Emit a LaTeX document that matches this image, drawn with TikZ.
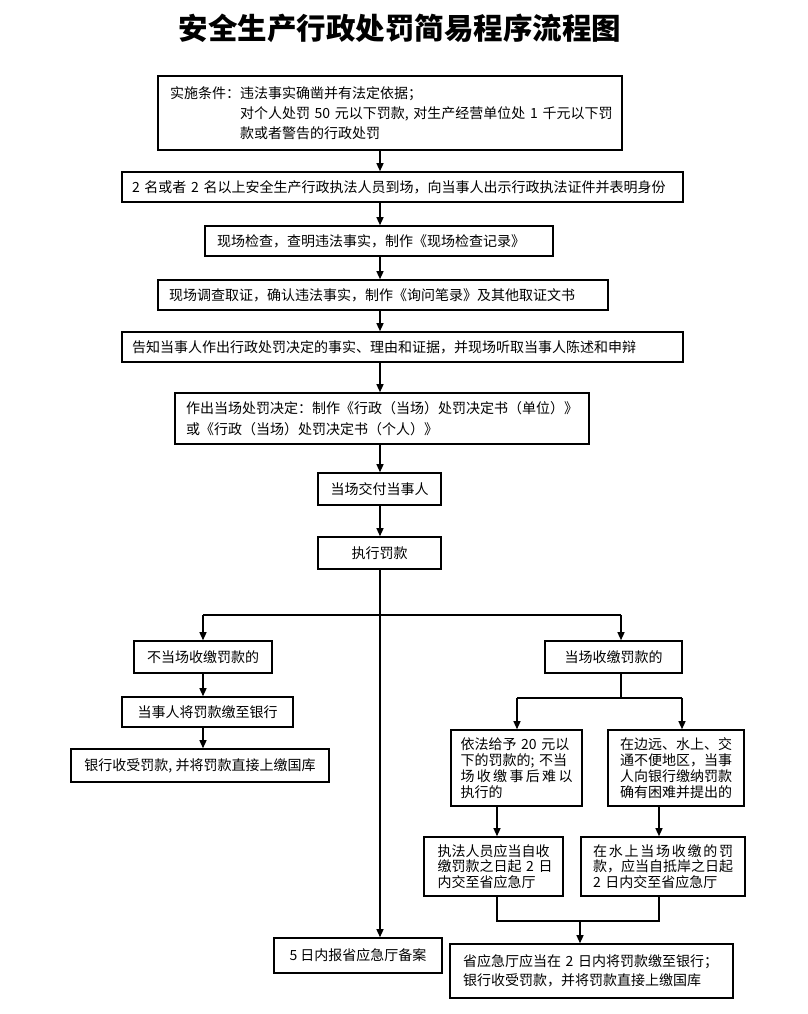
\documentclass[tikz,border=0pt]{standalone}
\usepackage{fontspec}
\setmainfont{Noto Sans CJK SC}
\usetikzlibrary{arrows.meta}
\tikzset{
  box/.style={draw, line width=1.6pt, inner ysep=0pt, font=\fontsize{14}{20}\selectfont},
  cbox/.style={box, align=center, inner xsep=0pt},
  arr/.style={line width=1.3pt, -{Triangle[length=8pt,width=7pt]}},
  ln/.style={line width=1.3pt},
}
\begin{document}
\begin{tikzpicture}[x=1pt,y=-1pt]
\fill[white] (0,0) rectangle (807,1014);
\useasboundingbox (0,0) rectangle (807,1014);

\node[font=\fontsize{29.5}{30}\selectfont\bfseries] (title) at (400,28) {安全生产行政处罚简易程序流程图};

\node[box, minimum width=464pt, minimum height=74pt, text width=440pt, inner xsep=12pt, align=left] (b1) at (390,113)
  {\mbox{实施条件：违法事实确凿并有法定依据；}\\
   \mbox{\hspace*{70pt}对个人处罚 50 元以下罚款, 对生产经营单位处 1 千元以下罚}\\
   \mbox{\hspace*{70pt}款或者警告的行政处罚}};

\node[box, minimum width=561pt, minimum height=30pt, text width=541pt, inner xsep=10pt, align=left] (b2) at (402.5,187)
  {\mbox{2 名或者 2 名以上安全生产行政执法人员到场，向当事人出示行政执法证件并表明身份}};

\node[box, minimum width=348pt, minimum height=30pt, text width=324pt, inner xsep=12pt, align=left] (b3) at (379,241)
  {\mbox{现场检查，查明违法事实，制作《现场检查记录》}};

\node[box, minimum width=450pt, minimum height=30pt, text width=428pt, inner xsep=11pt, align=left] (b4) at (383,295)
  {\mbox{现场调查取证，确认违法事实，制作《询问笔录》及其他取证文书}};

\node[box, minimum width=561pt, minimum height=30pt, text width=541pt, inner xsep=10pt, align=left] (b5) at (402.5,347)
  {\mbox{告知当事人作出行政处罚决定的事实、理由和证据，并现场听取当事人陈述和申辩}};

\node[box, font=\fontsize{14}{21}\selectfont, minimum width=414pt, minimum height=51pt, text width=392pt, inner xsep=11pt, align=left] (b6) at (382,418.5)
  {\mbox{作出当场处罚决定：制作《行政（当场）处罚决定书（单位）》}\\
   \mbox{或《行政（当场）处罚决定书（个人）》}};

\node[cbox, minimum width=123pt, minimum height=32pt] (b7) at (379.5,489) {当场交付当事人};
\node[cbox, minimum width=123pt, minimum height=32pt] (b8) at (379.5,553) {执行罚款};

\node[cbox, minimum width=138pt, minimum height=32pt] (A) at (203,657) {不当场收缴罚款的};
\node[cbox, minimum width=171pt, minimum height=30pt] (B) at (207.5,712) {当事人将罚款缴至银行};
\node[cbox, minimum width=258pt, minimum height=33pt] (C) at (200,765.5) {银行收受罚款, 并将罚款直接上缴国库};

\node[cbox, minimum width=137pt, minimum height=32pt] (R) at (613.5,657) {当场收缴罚款的};

\node[box, font=\fontsize{14}{16}\selectfont, minimum width=131pt, minimum height=76pt, text width=112pt, inner xsep=9.5pt, align=left] (D) at (516.5,768)
  {\makebox[8em][s]{依法给予 20 元以}\\
   \makebox[8em][s]{下的罚款的; 不当}\\
   \makebox[8em][s]{场\hfill 收\hfill 缴\hfill 事\hfill 后\hfill 难\hfill 以}\\
   执行的};

\node[box, font=\fontsize{14}{16}\selectfont, minimum width=136pt, minimum height=76pt, text width=112pt, inner xsep=12pt, align=left] (E) at (676,768)
  {在边远、水上、交\\
   通不便地区，当事\\
   人向银行缴纳罚款\\
   确有困难并提出的};

\node[box, font=\fontsize{14}{15.5}\selectfont, minimum width=139pt, minimum height=59pt, text width=112pt, inner xsep=13.5pt, align=left] (F) at (493.5,866.5)
  {执法人员应当自收\\
   \makebox[8em][s]{缴罚款之日起 2 日}\\
   内交至省应急厅};

\node[box, font=\fontsize{14}{15.5}\selectfont, minimum width=164pt, minimum height=59pt, text width=140pt, inner xsep=12pt, align=left] (G) at (663,866.5)
  {\makebox[10em][s]{在\hfill 水\hfill 上\hfill 当\hfill 场\hfill 收\hfill 缴\hfill 的\hfill 罚}\\
   款，应当自抵岸之日起\\
   \mbox{2 日内交至省应急厅}};

\node[cbox, minimum width=168pt, minimum height=35pt] (K) at (358,955.5) {5 日内报省应急厅备案};

\node[box, font=\fontsize{14}{19.5}\selectfont, minimum width=283pt, minimum height=54pt, text width=257pt, inner xsep=13pt, align=left] (H) at (591.5,971)
  {\mbox{省应急厅应当在 2 日内将罚款缴至银行；}\\
   \mbox{银行收受罚款，并将罚款直接上缴国库}};

% helper coordinates
\coordinate (spine) at (380,0);
\coordinate (jl) at (203,615);
\coordinate (jr) at (621,615);
\coordinate (jd) at (517,698);
\coordinate (je) at (682,698);
\coordinate (xf) at (497,0);
\coordinate (xg) at (659,0);
\coordinate (mL) at (497,921);
\coordinate (mR) at (659,921);
\coordinate (mm) at (580,921);

% main spine
\draw[arr] (b1.south -| spine) -- (b2.north -| spine);
\draw[arr] (b2.south -| spine) -- (b3.north -| spine);
\draw[arr] (b3.south -| spine) -- (b4.north -| spine);
\draw[arr] (b4.south -| spine) -- (b5.north -| spine);
\draw[arr] (b5.south -| spine) -- (b6.north -| spine);
\draw[arr] (b6.south -| spine) -- (b7.north -| spine);
\draw[arr] (b7.south -| spine) -- (b8.north -| spine);
\draw[arr] (b8.south -| spine) -- (K.north -| spine);

% branch
\draw[ln] (jl) -- (jr);
\draw[arr] (jl) -- (A.north -| jl);
\draw[arr] (jr) -- (R.north -| jr);
\draw[arr] (A.south -| jl) -- (B.north -| jl);
\draw[arr] (B.south -| jl) -- (C.north -| jl);

\draw[ln] (R.south -| jr) -- (jr |- jd);
\draw[ln] (jd) -- (je);
\draw[arr] (jd) -- (D.north -| jd);
\draw[arr] (je) -- (E.north -| je);

\draw[arr] (D.south -| xf) -- (F.north -| xf);
\draw[arr] (E.south -| xg) -- (G.north -| xg);

\draw[ln] (F.south -| xf) -- (mL) -- (mR) -- (G.south -| xg);
\draw[arr] (mm) -- (H.north -| mm);
\end{tikzpicture}
\end{document}
